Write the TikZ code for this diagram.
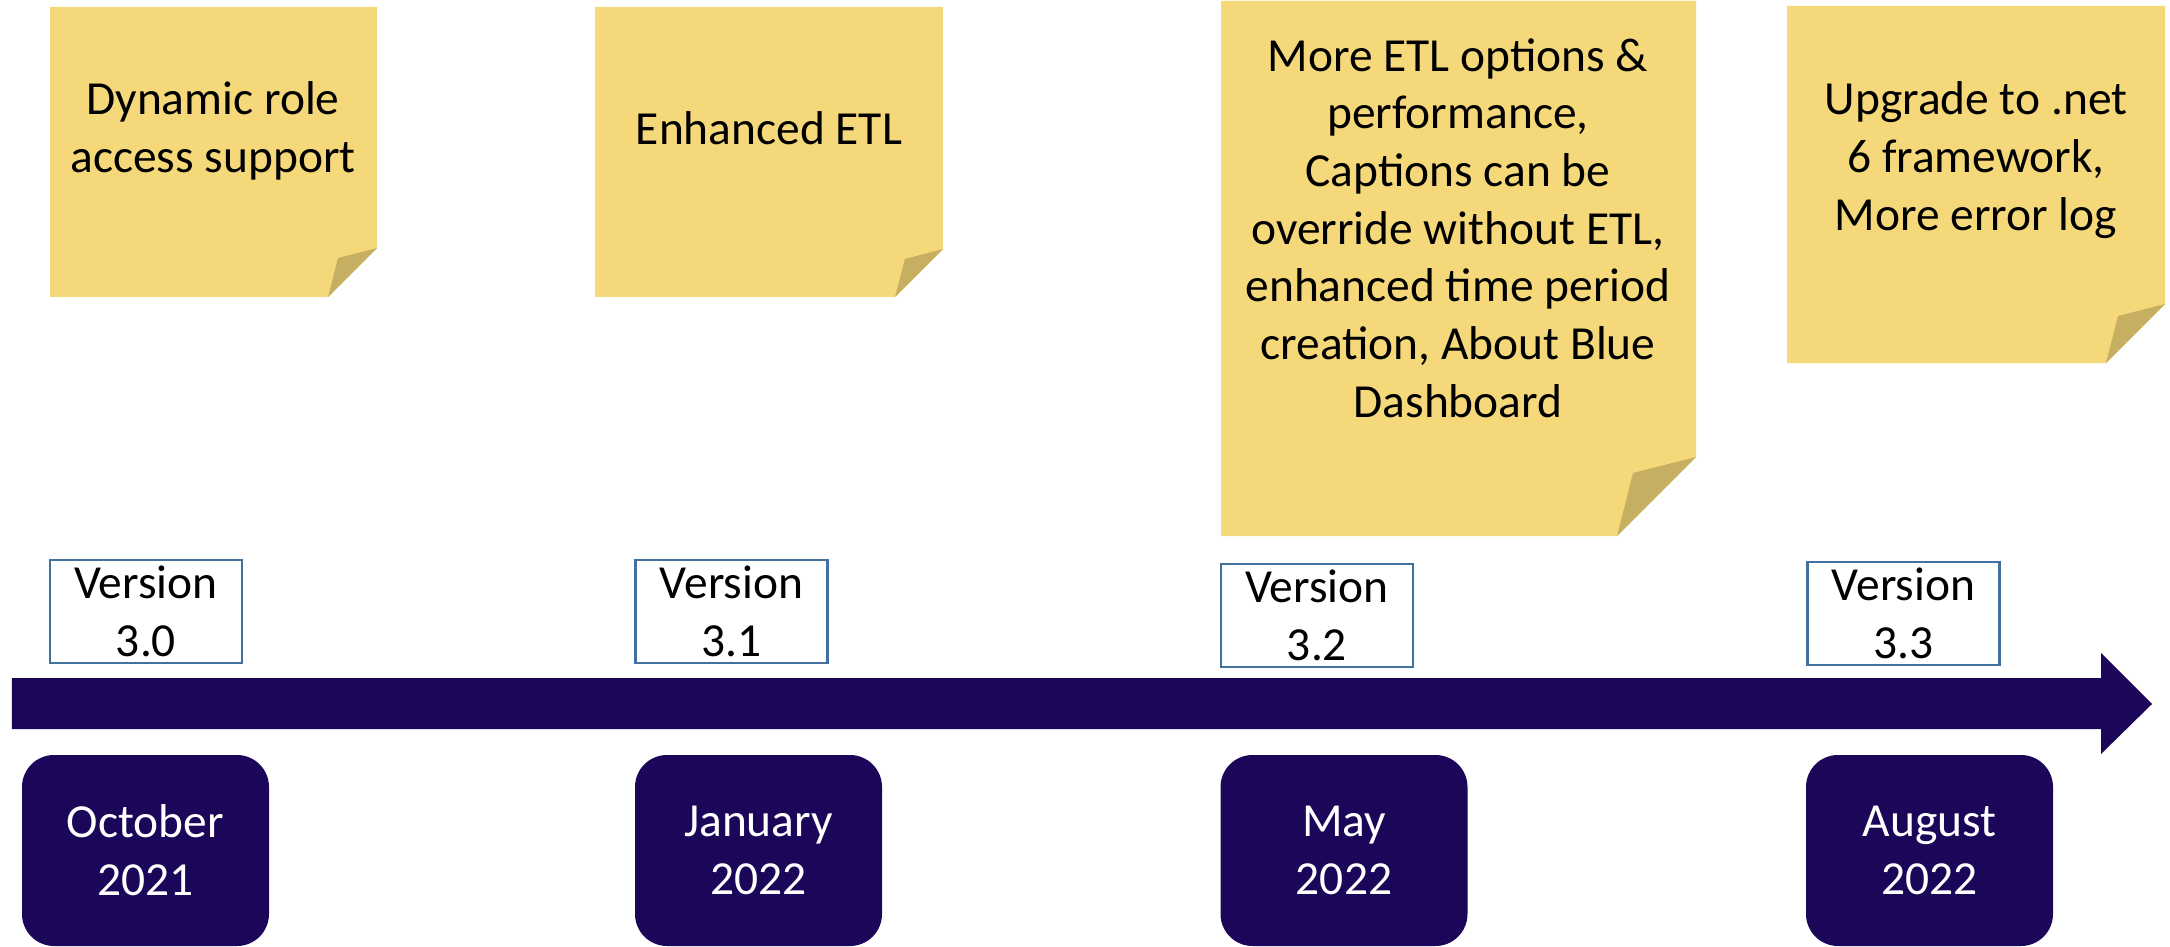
\documentclass[tikz,border=0pt]{standalone}
\usepackage{fontspec}
\setmainfont{Carlito}
\usepackage{tikz}

\definecolor{notefill}{RGB}{244,216,122}
\definecolor{notefold}{RGB}{199,175,98}
\definecolor{darkline}{RGB}{27,6,89}
\definecolor{verframe}{RGB}{65,113,156}

\begin{document}
\begin{tikzpicture}[
  txt/.style={align=center, inner sep=0pt, font=\fontsize{13.5pt}{16.4pt}\selectfont},
  verbox/.style={txt, draw=verframe, line width=0.6pt, fill=white, minimum width=1.92cm, minimum height=1.03cm},
  datebox/.style={txt, fill=darkline, text=white, rounded corners=0.32cm, minimum width=2.47cm, minimum height=1.91cm}
]
\useasboundingbox (0,0) rectangle (21.70,9.46);
% Notas adhesivas
\fill[notefill] (0.50,9.39) -- (3.77,9.39) -- (3.77,6.98) -- (3.28,6.49) -- (0.50,6.49) -- cycle;
\fill[notefold] (3.77,6.98) -- (3.38,6.88) -- (3.28,6.49) -- cycle;
\fill[notefill] (5.95,9.39) -- (9.43,9.39) -- (9.43,6.97) -- (8.95,6.49) -- (5.95,6.49) -- cycle;
\fill[notefold] (9.43,6.97) -- (9.05,6.87) -- (8.95,6.49) -- cycle;
\fill[notefill] (12.21,9.45) -- (16.96,9.45) -- (16.96,4.89) -- (16.17,4.10) -- (12.21,4.10) -- cycle;
\fill[notefold] (16.96,4.89) -- (16.33,4.73) -- (16.17,4.10) -- cycle;
\fill[notefill] (17.87,9.40) -- (21.65,9.40) -- (21.65,6.42) -- (21.06,5.83) -- (17.87,5.83) -- cycle;
\fill[notefold] (21.65,6.42) -- (21.18,6.30) -- (21.06,5.83) -- cycle;
\node[txt] (note30) at (2.13,8.15) {Dynamic role\\access support};
\node[txt] (note31) at (7.69,8.18) {Enhanced ETL};
\node[txt] (note32) at (14.58,7.18) {More ETL options \&\\performance,\\Captions can be\\override without ETL,\\enhanced time period\\creation, About Blue\\Dashboard};
\node[txt] (note33) at (19.76,7.86) {Upgrade to .net\\6 framework,\\More error log};
% Flecha del tiempo
\fill[darkline] (0.12,2.68) -- (21.01,2.68) -- (21.01,2.93) -- (21.52,2.42) -- (21.01,1.92) -- (21.01,2.17) -- (0.12,2.17) -- cycle;
% Versiones
\node[verbox] (v30) at (1.46,3.345) {Version\\3.0};
\node[verbox] (v31) at (7.315,3.345) {Version\\3.1};
\node[verbox] (v32) at (13.17,3.305) {Version\\3.2};
\node[verbox] (v33) at (19.035,3.325) {Version\\3.3};
% Fechas
\node[datebox] (d30) at (1.455,0.955) {October\\2021};
\node[datebox] (d31) at (7.585,0.955) {January\\2022};
\node[datebox] (d32) at (13.44,0.955) {May\\2022};
\node[datebox] (d33) at (19.295,0.955) {August\\2022};
\end{tikzpicture}
\end{document}
